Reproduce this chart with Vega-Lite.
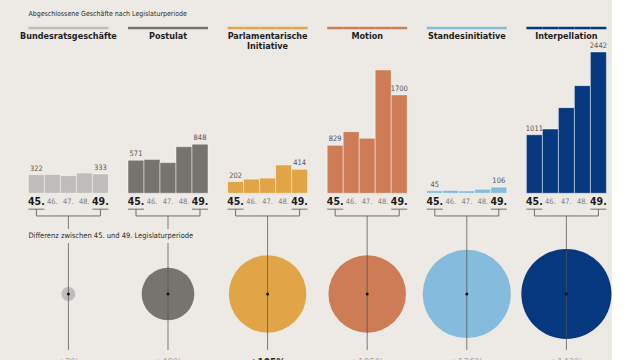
{
  "$schema": "https://vega.github.io/schema/vega-lite/v6.json",
  "background": "#edeae5",
  "padding": {"left": 19.4, "top": 0, "right": 0, "bottom": 0},
  "bounds": "flush",
  "data": {"values": [
    {"category": "Bundesratsgeschäfte", "period": "45.", "value": 322},
    {"category": "Bundesratsgeschäfte", "period": "46.", "value": 325},
    {"category": "Bundesratsgeschäfte", "period": "47.", "value": 305},
    {"category": "Bundesratsgeschäfte", "period": "48.", "value": 350},
    {"category": "Bundesratsgeschäfte", "period": "49.", "value": 333},
    {"category": "Postulat", "period": "45.", "value": 571},
    {"category": "Postulat", "period": "46.", "value": 585},
    {"category": "Postulat", "period": "47.", "value": 530},
    {"category": "Postulat", "period": "48.", "value": 805},
    {"category": "Postulat", "period": "49.", "value": 848},
    {"category": "Parlamentarische Initiative", "period": "45.", "value": 202},
    {"category": "Parlamentarische Initiative", "period": "46.", "value": 245},
    {"category": "Parlamentarische Initiative", "period": "47.", "value": 262},
    {"category": "Parlamentarische Initiative", "period": "48.", "value": 490},
    {"category": "Parlamentarische Initiative", "period": "49.", "value": 414},
    {"category": "Motion", "period": "45.", "value": 829},
    {"category": "Motion", "period": "46.", "value": 1065},
    {"category": "Motion", "period": "47.", "value": 950},
    {"category": "Motion", "period": "48.", "value": 2130},
    {"category": "Motion", "period": "49.", "value": 1700},
    {"category": "Standesinitiative", "period": "45.", "value": 45},
    {"category": "Standesinitiative", "period": "46.", "value": 50},
    {"category": "Standesinitiative", "period": "47.", "value": 42},
    {"category": "Standesinitiative", "period": "48.", "value": 70},
    {"category": "Standesinitiative", "period": "49.", "value": 106},
    {"category": "Interpellation", "period": "45.", "value": 1011},
    {"category": "Interpellation", "period": "46.", "value": 1110},
    {"category": "Interpellation", "period": "47.", "value": 1480},
    {"category": "Interpellation", "period": "48.", "value": 1860},
    {"category": "Interpellation", "period": "49.", "value": 2442},
    {"category": "Bundesratsgeschäfte", "change": 3.4, "label": "+3%"},
    {"category": "Postulat", "change": 48.5, "label": "+49%"},
    {"category": "Parlamentarische Initiative", "change": 105, "label": "+105%"},
    {"category": "Motion", "change": 105, "label": "+105%"},
    {"category": "Standesinitiative", "change": 136, "label": "+136%"},
    {"category": "Interpellation", "change": 142, "label": "+142%"}
  ]},
  "facet": {
    "column": {
      "field": "category", "type": "nominal",
      "sort": ["Bundesratsgeschäfte", "Postulat", "Parlamentarische Initiative", "Motion", "Standesinitiative", "Interpellation"],
      "title": null,
      "header": {"labels": false, "labelPadding": 0, "titlePadding": 0}
    }
  },
  "spacing": {"column": 19.6},
  "spec": {
    "width": 80,
    "height": 360,
    "encoding": {
      "color": {
        "field": "category", "type": "nominal", "legend": null,
        "scale": {
          "domain": ["Bundesratsgeschäfte", "Postulat", "Parlamentarische Initiative", "Motion", "Standesinitiative", "Interpellation"],
          "range": ["#bebdbb", "#77746f", "#e1a548", "#cd7c55", "#85bbdd", "#05387f"]
        }
      }
    },
    "layer": [
      {
        "transform": [{"filter": "datum.period != null"}],
        "mark": {"type": "bar", "stroke": "#ffffff", "strokeOpacity": 0.45, "strokeWidth": 1},
        "encoding": {
          "x": {"field": "period", "type": "ordinal", "axis": null, "scale": {"domain": ["45.", "46.", "47.", "48.", "49."], "paddingInner": 0, "paddingOuter": 0}},
          "y": {"field": "value", "type": "quantitative", "axis": null, "scale": {"domain": [-2881, 3340], "nice": false, "zero": false}}
        }
      },
      {
        "transform": [{"filter": "datum.period != null"}],
        "mark": {"type": "bar"},
        "encoding": {
          "x": {"field": "period", "type": "ordinal"},
          "y": {"datum": 2877, "type": "quantitative"},
          "y2": {"datum": 2834}
        }
      },
      {
        "transform": [{"filter": "datum.period == '47.'"}],
        "mark": {"type": "text", "baseline": "top", "align": "center", "fontWeight": "bold", "fontSize": 9, "lineBreak": " ", "lineHeight": 10.5, "font": "DejaVu Sans Condensed, sans-serif"},
        "encoding": {
          "x": {"field": "period", "type": "ordinal"},
          "y": {"datum": 2787, "type": "quantitative"},
          "text": {"field": "category"},
          "color": {"value": "#1e1e1e"}
        }
      },
      {
        "transform": [{"filter": "datum.category == 'Bundesratsgeschäfte' && datum.period == '45.'"}],
        "mark": {"type": "text", "baseline": "middle", "align": "left", "dx": -8, "fontSize": 7, "font": "DejaVu Sans Condensed, sans-serif"},
        "encoding": {
          "x": {"field": "period", "type": "ordinal"},
          "y": {"datum": 3098, "type": "quantitative"},
          "text": {"value": "Abgeschlossene Geschäfte nach Legislaturperiode"},
          "color": {"value": "#2a2a2a"}
        }
      },
      {
        "transform": [{"filter": "datum.period == '45.' || datum.period == '49.'"}],
        "mark": {"type": "text", "baseline": "bottom", "align": "center", "dy": -2, "fontSize": 7.5, "font": "DejaVu Sans Condensed, sans-serif"},
        "encoding": {
          "x": {"field": "period", "type": "ordinal"},
          "y": {"field": "value", "type": "quantitative"},
          "text": {"field": "value", "type": "quantitative"},
          "color": {"value": "#555555"}
        }
      },
      {
        "transform": [{"filter": "datum.period == '45.' || datum.period == '49.'"}],
        "mark": {"type": "text", "baseline": "middle", "align": "center", "fontSize": 10.5, "fontWeight": "bold", "font": "DejaVu Sans Condensed, sans-serif"},
        "encoding": {
          "x": {"field": "period", "type": "ordinal"},
          "y": {"datum": -159, "type": "quantitative"},
          "text": {"field": "period"},
          "color": {"value": "#1a1a1a"}
        }
      },
      {
        "transform": [{"filter": "datum.period == '46.' || datum.period == '47.' || datum.period == '48.'"}],
        "mark": {"type": "text", "baseline": "middle", "align": "center", "fontSize": 7.5, "font": "DejaVu Sans Condensed, sans-serif"},
        "encoding": {
          "x": {"field": "period", "type": "ordinal"},
          "y": {"datum": -159, "type": "quantitative"},
          "text": {"field": "period"},
          "color": {"value": "#808080"}
        }
      },
      {
        "transform": [{"filter": "datum.period == '45.' || datum.period == '49.'"}],
        "mark": {"type": "bar"},
        "encoding": {
          "x": {"field": "period", "type": "ordinal"},
          "y": {"datum": -266, "type": "quantitative"},
          "y2": {"datum": -283},
          "color": {"value": "#6e6e6e"}
        }
      },
      {
        "transform": [{"filter": "datum.period == '45.' || datum.period == '49.'"}],
        "mark": {"type": "rule", "strokeWidth": 1},
        "encoding": {
          "x": {"field": "period", "type": "ordinal"},
          "y": {"datum": -271, "type": "quantitative"},
          "y2": {"datum": -392},
          "color": {"value": "#6e6e6e"}
        }
      },
      {
        "transform": [{"filter": "datum.period != null"}],
        "mark": {"type": "line", "strokeWidth": 1},
        "encoding": {
          "x": {"field": "period", "type": "ordinal"},
          "y": {"datum": -392, "type": "quantitative"},
          "detail": {"field": "category"},
          "color": {"value": "#6e6e6e"}
        }
      },
      {
        "transform": [{"filter": "datum.change != null"}],
        "mark": {"type": "point", "shape": "circle", "filled": true, "opacity": 1, "strokeWidth": 0},
        "encoding": {
          "y": {"datum": -1740, "type": "quantitative"},
          "size": {"field": "change", "type": "quantitative", "legend": null, "scale": {"type": "linear", "domain": [0, 100], "range": [0, 5720], "zero": true}}
        }
      },
      {
        "transform": [{"filter": "datum.period == '47.'"}],
        "mark": {"type": "rule", "strokeWidth": 1, "opacity": 0.75},
        "encoding": {
          "x": {"field": "period", "type": "ordinal"},
          "y": {"datum": -392, "type": "quantitative"},
          "y2": {"datum": -617},
          "color": {"value": "#555555"}
        }
      },
      {
        "transform": [{"filter": "datum.period == '47.' && datum.category != 'Bundesratsgeschäfte' && datum.category != 'Postulat'"}],
        "mark": {"type": "rule", "strokeWidth": 1, "opacity": 0.75},
        "encoding": {
          "x": {"field": "period", "type": "ordinal"},
          "y": {"datum": -617, "type": "quantitative"},
          "y2": {"datum": -859},
          "color": {"value": "#555555"}
        }
      },
      {
        "transform": [{"filter": "datum.period == '47.'"}],
        "mark": {"type": "rule", "strokeWidth": 1, "opacity": 0.75},
        "encoding": {
          "x": {"field": "period", "type": "ordinal"},
          "y": {"datum": -859, "type": "quantitative"},
          "y2": {"datum": -2708},
          "color": {"value": "#555555"}
        }
      },
      {
        "transform": [{"filter": "datum.change != null"}],
        "mark": {"type": "point", "shape": "circle", "filled": true, "opacity": 1, "size": 9},
        "encoding": {
          "y": {"datum": -1740, "type": "quantitative"},
          "color": {"value": "#111111"}
        }
      },
      {
        "transform": [{"filter": "datum.category == 'Bundesratsgeschäfte' && datum.period == '45.'"}],
        "mark": {"type": "text", "baseline": "middle", "align": "left", "dx": -8, "fontSize": 7.5, "font": "DejaVu Sans Condensed, sans-serif"},
        "encoding": {
          "x": {"field": "period", "type": "ordinal"},
          "y": {"datum": -738, "type": "quantitative"},
          "text": {"value": "Differenz  zwischen 45. und 49. Legislaturperiode"},
          "color": {"value": "#2a2a2a"}
        }
      },
      {
        "transform": [{"filter": "datum.change != null && datum.category != 'Parlamentarische Initiative'"}],
        "mark": {"type": "text", "baseline": "top", "align": "center", "fontSize": 10, "font": "DejaVu Sans Condensed, sans-serif"},
        "encoding": {
          "y": {"datum": -2855, "type": "quantitative"},
          "text": {"field": "label"},
          "color": {"value": "#a8a8a8"}
        }
      },
      {
        "transform": [{"filter": "datum.category == 'Parlamentarische Initiative' && datum.change != null"}],
        "mark": {"type": "text", "baseline": "top", "align": "center", "fontSize": 10, "fontWeight": "bold", "font": "DejaVu Sans Condensed, sans-serif"},
        "encoding": {
          "y": {"datum": -2855, "type": "quantitative"},
          "text": {"field": "label"},
          "color": {"value": "#2a2a2a"}
        }
      }
    ]
  },
  "config": {
    "view": {"stroke": null},
    "font": "DejaVu Sans Condensed, sans-serif"
  }
}
